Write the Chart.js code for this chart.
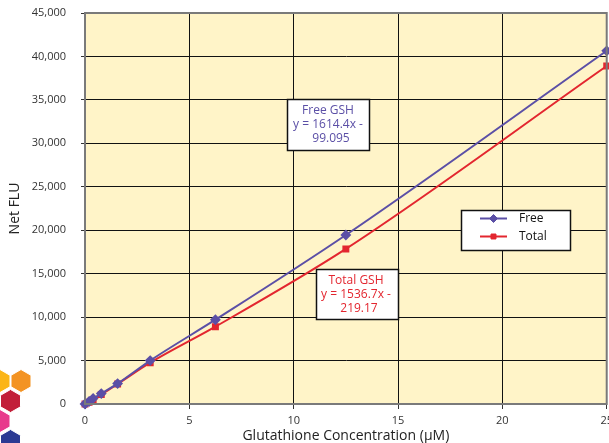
<!DOCTYPE html>
<html>
<head>
<meta charset="utf-8">
<script src="https://cdn.jsdelivr.net/npm/chart.js@4.4.1/dist/chart.umd.min.js"></script>
<style>
  html, body { margin: 0; padding: 0; background: #fff; overflow: hidden; }
  #wrap { position: relative; width: 618px; height: 443px; }
  #gshChart { display: block; width: 618px; height: 443px; }
  #logo { position: absolute; left: 0; top: 0; pointer-events: none; }
</style>
</head>
<body>
<div id="wrap">
  <canvas id="gshChart" width="618" height="443"></canvas>
  <svg id="logo" width="40" height="443"></svg>
</div>
<script>
// GSH standard curve
const concentrations = [0, 0.195, 0.39, 0.78, 1.5625, 3.125, 6.25, 12.5, 25];
const freeFlu = [0, 290, 640, 1200, 2350, 5000, 9700, 19450, 40650];
const totalFlu = [0, 200, 500, 1100, 2300, 4750, 8900, 17850, 38900];
const seriesLabels = ["Free", "Total"];
const fitNotes = [
  ["Free GSH", "y = 1614.4x -", "99.095"],
  ["Total GSH", "y = 1536.7x -", "219.17"],
];

const PURPLE = "#5b4fa6";
const RED = "#e3262f";
const FONT = "'Open Sans', 'Noto Sans', sans-serif";

// little hexagon logo in the corner
(function drawLogo() {
  const svg = document.getElementById("logo");
  const hexes = [
    [0, 381, "#fbb516"],
    [21, 381, "#f39323"],
    [10.5, 401, "#c21f39"],
    [0, 421, "#e83a8c"],
    [10.5, 441, "#2b3a93"],
  ];
  const r = 11.5;
  hexes.forEach(([cx, cy, fill]) => {
    const pts = [];
    for (let i = 0; i < 6; i++) {
      const a = (Math.PI / 180) * (60 * i - 90);
      pts.push((cx + r * Math.cos(a)).toFixed(1) + "," + (cy + r * Math.sin(a)).toFixed(1));
    }
    const poly = document.createElementNS("http://www.w3.org/2000/svg", "polygon");
    poly.setAttribute("points", pts.join(" "));
    poly.setAttribute("fill", fill);
    poly.setAttribute("stroke", "#fff");
    poly.setAttribute("stroke-width", "1");
    svg.appendChild(poly);
  });
})();

const plotBackground = {
  id: "plotBackground",
  beforeDraw(chart) {
    const { ctx, chartArea: a } = chart;
    ctx.save();
    ctx.fillStyle = "#fff4c8";
    ctx.fillRect(a.left, a.top, a.right - a.left, a.bottom - a.top);
    ctx.restore();
  },
  afterDatasetsDraw(chart) {
    const { ctx, chartArea: a } = chart;
    ctx.save();
    ctx.strokeStyle = "#7a7a7a";
    ctx.lineWidth = 2;
    ctx.strokeRect(a.left, a.top, a.right - a.left, a.bottom - a.top);
    ctx.restore();
  },
};

function textBox(ctx, lines, color, x, y, w, h, centerX) {
  ctx.fillStyle = "#fff";
  ctx.fillRect(x, y, w, h);
  ctx.strokeStyle = "#111";
  ctx.lineWidth = 1.5;
  ctx.strokeRect(x, y, w, h);
  ctx.fillStyle = color;
  ctx.font = "12px " + FONT;
  ctx.textAlign = "center";
  ctx.textBaseline = "middle";
  lines.forEach((t, i) => {
    const dx = i === 2 ? 3 : 0;
    ctx.fillText(t, centerX + dx, y + 11 + i * 14);
  });
}

const overlays = {
  id: "overlays",
  afterDraw(chart) {
    const { ctx } = chart;
    ctx.save();
    textBox(ctx, fitNotes[0], PURPLE, 287.5, 99.5, 82, 51, 328);
    textBox(ctx, fitNotes[1], RED, 316.5, 269.5, 82, 50, 356);

    // legend box
    ctx.fillStyle = "#fff";
    ctx.fillRect(461.5, 210.5, 109, 40);
    ctx.strokeStyle = "#111";
    ctx.lineWidth = 1.5;
    ctx.strokeRect(461.5, 210.5, 109, 40);
    chart.data.datasets.forEach((ds, i) => {
      const yy = 218.5 + i * 18;
      ctx.strokeStyle = ds.borderColor;
      ctx.lineWidth = 2;
      ctx.beginPath();
      ctx.moveTo(480, yy);
      ctx.lineTo(507, yy);
      ctx.stroke();
      ctx.fillStyle = ds.backgroundColor;
      ctx.lineWidth = 1;
      Chart.helpers.drawPoint(ctx, {
        pointStyle: ds.pointStyle,
        radius: ds.pointRadius,
        borderWidth: 1,
      }, 493.5, yy);
      ctx.fillStyle = "#111";
      ctx.font = "12px " + FONT;
      ctx.textAlign = "left";
      ctx.textBaseline = "middle";
      ctx.fillText(ds.label, 519, yy);
    });
    ctx.restore();
  },
};

document.addEventListener("DOMContentLoaded", () => {
  const canvas = document.getElementById("gshChart");
  new Chart(canvas, {
    type: "line",
    data: {
      datasets: [
        {
          label: seriesLabels[0],
          data: concentrations.map((x, i) => ({ x, y: freeFlu[i] })),
          borderColor: PURPLE,
          backgroundColor: PURPLE,
          pointStyle: "rectRot",
          pointRadius: 4,
          borderWidth: 2,
          cubicInterpolationMode: "monotone",
          clip: false,
        },
        {
          label: seriesLabels[1],
          data: concentrations.map((x, i) => ({ x, y: totalFlu[i] })),
          borderColor: RED,
          backgroundColor: RED,
          pointStyle: "rect",
          pointRadius: 3.5,
          borderWidth: 2,
          cubicInterpolationMode: "monotone",
          clip: false,
        },
      ],
    },
    options: {
      responsive: false,
      animation: false,
      events: [],
      layout: { padding: { top: 13, left: 0, right: 0, bottom: 0 } },
      scales: {
        x: {
          type: "linear",
          min: 0,
          max: 25,
          border: { color: "#7a7a7a", width: 2 },
          grid: { color: "#111", lineWidth: 1, tickLength: 5, tickColor: "#333" },
          ticks: { stepSize: 5, color: "#333", padding: 5, font: { family: FONT, size: 11 } },
          title: {
            display: true,
            text: "Glutathione Concentration (µM)",
            color: "#222",
            font: { family: FONT, size: 14, lineHeight: 1 },
            padding: { top: 0, bottom: 0 },
          },
          afterFit: (s) => { s.height = 39; },
        },
        y: {
          min: 0,
          max: 45000,
          border: { color: "#7a7a7a", width: 2 },
          grid: { color: "#111", lineWidth: 1, tickLength: 4, tickColor: "#333" },
          ticks: {
            stepSize: 5000,
            color: "#333",
            padding: 15,
            font: { family: FONT, size: 11 },
            callback: (v) => v.toLocaleString("en-US"),
          },
          title: {
            display: true,
            text: "Net FLU",
            color: "#222",
            font: { family: FONT, size: 14, lineHeight: 1 },
            padding: { top: 8, bottom: 0 },
          },
          afterFit: (s) => {
            s.width = 85;
            s.paddingTop = 0;
            s.paddingBottom = 0;
          },
        },
      },
      plugins: {
        legend: { display: false },
        tooltip: { enabled: false },
      },
    },
    plugins: [plotBackground, overlays],
  });
});
</script>
</body>
</html>
